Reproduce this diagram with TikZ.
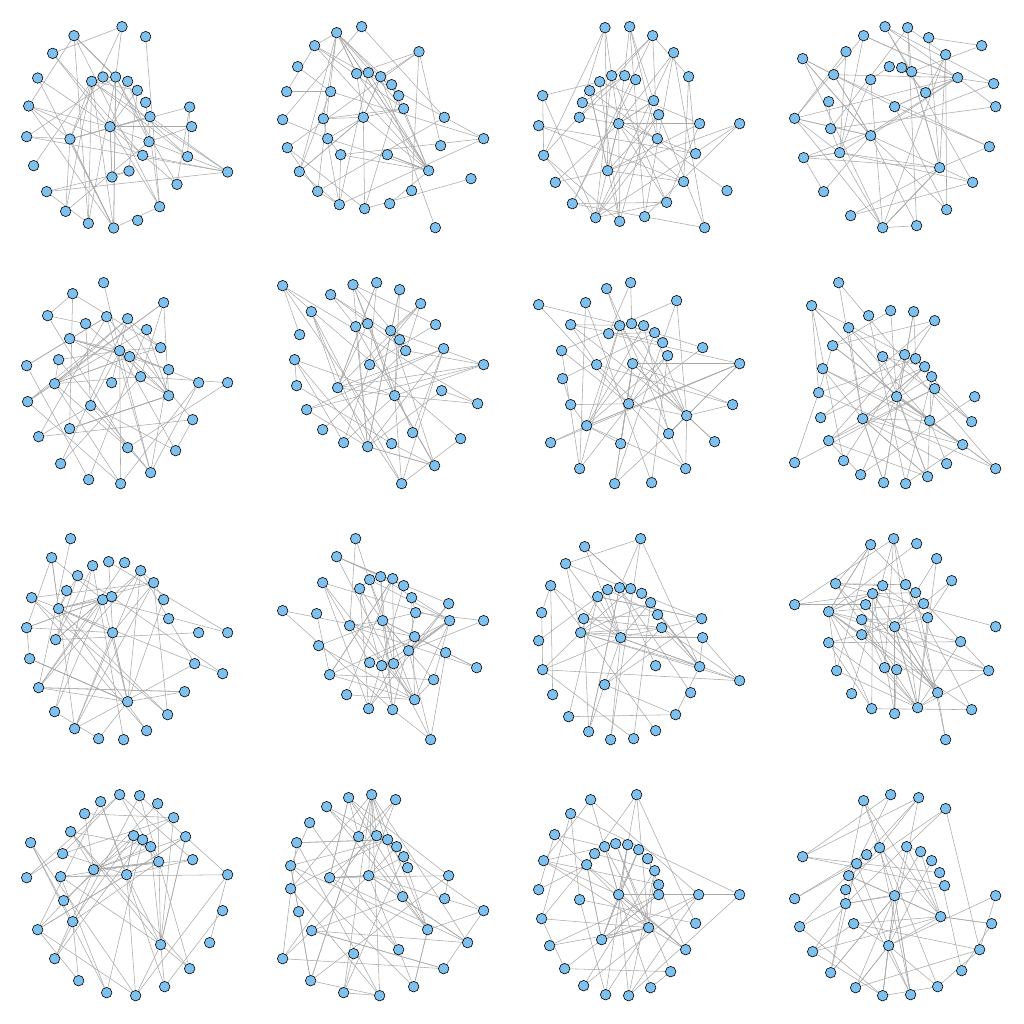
\documentclass[tikz,border=0pt]{standalone}
\usetikzlibrary{backgrounds}
\definecolor{nodeblue}{RGB}{126,192,238}
\definecolor{linkgray}{RGB}{170,170,170}
\tikzset{
  vtx/.style={circle, draw=black, fill=nodeblue, line width=0.6pt, minimum size=10.5pt, inner sep=0pt},
  link/.style={draw=linkgray, line width=0.55pt}
}
\newcommand{\netpanel}[3]{%
  \foreach \x/\y [count=\i] in {#2} {
    \node[vtx] (#1-\i) at (\x,\y) {};
    \xdef\nv{\i}
  }
  \begin{pgfonlayer}{background}
    \foreach \i in {1,...,\nv} {
      \pgfmathrandominteger{\j}{1}{\nv}
      \ifnum\i=\j\else \draw[link] (#1-\i) -- (#1-\j); \fi
    }
    \foreach \h in {#3} {
      \foreach \k in {1,...,8} {
        \pgfmathrandominteger{\j}{1}{\nv}
        \ifnum\h=\j\else \draw[link] (#1-\h) -- (#1-\j); \fi
      }
    }
    \foreach \k in {1,...,10} {
      \pgfmathrandominteger{\i}{1}{\nv}
      \pgfmathrandominteger{\j}{1}{\nv}
      \ifnum\i=\j\else \draw[link] (#1-\i) -- (#1-\j); \fi
    }
  \end{pgfonlayer}
}
\begin{document}
\begin{tikzpicture}[x=0.3333pt, y=-0.3333pt]
  \begin{pgfonlayer}{background}
    \fill[white] (0,0) rectangle (3072,3072);
  \end{pgfonlayer}
  \useasboundingbox (0,0) rectangle (3072,3072);
  \pgfmathsetseed{11}
  \begin{scope}
    \netpanel{a}{366/80, 222/107, 437/110, 158/160, 113/234, 275/244, 309/231, 347/231, 383/244, 412/271, 437/307, 86/318, 569/321, 450/350, 330/380, 575/380, 80/410, 210/417, 447/425, 428/466, 563/470, 101/497, 387/513, 336/531, 683/516, 531/553, 140/575, 479/620, 197/634, 265/670, 341/684, 413/661}{18,15,8}
    \netpanel{b}{1085/80, 1010/98, 944/137, 1257/155, 893/200, 1070/221, 1105/218, 1142/230, 1175/254, 1196/287, 1211/326, 860/275, 992/275, 848/359, 970/356, 1090/352, 1333/352, 983/416, 1451/416, 862/443, 1322/437, 1022/464, 1162/464, 898/515, 1286/512, 1413/536, 953/574, 1235/572, 1018/614, 1094/626, 1169/611, 1306/683}{16,25,2}
  \end{scope}
  \begin{scope}[shift={(1536,0)}]
    \netpanel{c}{279/83, 353/80, 422/107, 485/158, 530/230, 299/227, 338/227, 371/239, 263/245, 233/272, 92/287, 211/308, 425/302, 202/352, 440/344, 80/377, 320/371, 563/371, 683/371, 436/416, 551/461, 95/466, 287/512, 130/547, 515/545, 645/572, 181/611, 464/607, 251/653, 323/664, 398/650, 578/683}{17,23,29}
    \netpanel{d}{1119/80, 1187/83, 1055/107, 1250/113, 1409/137, 1002/155, 872/176, 1301/164, 1132/200, 1169/203, 1199/215, 965/224, 1076/239, 1337/233, 1445/251, 1241/278, 950/305, 1148/320, 1451/320, 848/355, 956/386, 1076/407, 1432/440, 983/458, 875/473, 1283/503, 1382/547, 935/575, 1304/629, 1016/647, 1112/683, 1214/677}{22,24,26,14}
  \end{scope}
  \begin{scope}[shift={(0,768)}]
    \netpanel{e}{311/80, 218/113, 491/140, 143/179, 257/203, 320/182, 383/188, 209/248, 440/221, 482/275, 359/284, 389/302, 176/311, 80/329, 506/341, 164/383, 335/380, 422/362, 596/380, 683/380, 506/419, 83/437, 272/449, 578/491, 209/518, 116/542, 383/575, 527/584, 182/623, 266/671, 362/683, 452/650}{16,21,11}
    \netpanel{f}{848/89, 992/116, 1059/86, 1130/80, 1199/101, 934/167, 1262/143, 1067/212, 1103/203, 1172/224, 1307/206, 899/236, 1199/251, 1217/284, 1331/278, 884/311, 1109/326, 1451/326, 890/389, 1013/395, 1184/419, 1325/404, 1433/443, 920/461, 968/521, 1238/530, 1031/560, 1103/572, 1175/563, 1382/548, 1304/629, 1205/683}{20,21,28}
  \end{scope}
  \begin{scope}[shift={(1536,768)}]
    \netpanel{g}{356/80, 284/98, 80/146, 221/140, 494/134, 176/206, 323/209, 359/203, 395/209, 428/230, 290/233, 452/260, 572/275, 467/299, 149/284, 254/326, 362/323, 683/323, 152/368, 176/446, 350/443, 662/446, 524/479, 224/509, 116/560, 470/533, 326/563, 608/557, 203/638, 521/638, 308/683, 419/680}{23,24,17}
    \netpanel{h}{980/80, 899/149, 1070/179, 1136/164, 1205/167, 1268/194, 1010/215, 962/269, 1112/302, 1178/296, 1211/308, 1238/332, 1259/362, 1268/398, 932/338, 920/410, 1154/422, 1388/422, 926/485, 1052/488, 1253/494, 1379/497, 950/554, 1352/566, 848/620, 995/614, 1304/623, 1451/638, 1046/656, 1115/680, 1181/683, 1247/662}{20,17,21}
  \end{scope}
  \begin{scope}[shift={(0,1536)}]
    \netpanel{i}{212/80, 155/137, 278/161, 326/149, 374/152, 233/191, 422/176, 461/212, 200/236, 95/257, 308/263, 335/254, 491/263, 176/290, 506/320, 80/347, 338/362, 596/362, 683/362, 167/383, 89/440, 584/455, 668/485, 116/527, 554/539, 383/569, 164/599, 503/608, 224/650, 296/680, 371/683, 440/656}{26,14,11}
    \netpanel{j}{1067/80, 1010/134, 968/212, 1109/203, 1142/194, 1178/200, 1211/221, 1079/230, 1235/257, 848/296, 950/305, 1346/275, 1247/302, 1148/326, 1349/326, 1451/326, 1049/341, 956/401, 1244/374, 1226/416, 1337/422, 1109/452, 1145/461, 1181/455, 1430/467, 989/488, 1301/503, 1040/548, 1244/563, 1106/590, 1178/593, 1292/683}{14,29,15}
  \end{scope}
  \begin{scope}[shift={(1536,1536)}]
    \netpanel{k}{386/80, 218/104, 161/155, 116/221, 257/254, 287/233, 323/227, 356/230, 389/244, 416/272, 437/308, 89/302, 215/320, 449/347, 569/320, 572/377, 80/386, 206/362, 326/377, 431/461, 563/464, 92/473, 683/506, 278/518, 536/542, 122/548, 170/614, 491/608, 230/659, 296/683, 365/680, 431/656}{19,21,18}
    \netpanel{l}{1076/98, 1145/80, 1214/95, 1274/140, 1319/206, 971/215, 1112/221, 1181/218, 1211/242, 1082/245, 1235/275, 1061/278, 848/278, 950/299, 1049/323, 1247/317, 1148/344, 1049/368, 1451/344, 1346/389, 950/392, 1118/467, 1154/473, 1430/476, 974/476, 1277/542, 1019/545, 1217/587, 1379/593, 1079/590, 1148/605, 1301/683}{14,17,28,26}
  \end{scope}
  \begin{scope}[shift={(0,2304)}]
    \netpanel{m}{359/80, 419/83, 302/101, 473/107, 254/137, 521/149, 212/191, 92/224, 401/203, 428/215, 557/206, 452/236, 188/257, 476/281, 578/275, 281/305, 380/320, 80/329, 182/326, 683/320, 191/398, 668/428, 218/461, 113/485, 482/530, 629/524, 164/572, 569/602, 236/638, 320/674, 407/683, 494/656}{25,16,17}
    \netpanel{n}{1046/89, 1115/80, 1187/95, 980/116, 929/164, 1076/206, 1130/203, 1163/215, 1190/236, 1211/266, 1223/299, 890/224, 872/293, 872/362, 989/329, 1106/323, 1346/323, 896/431, 1208/386, 1334/392, 1451/428, 935/488, 1283/485, 1403/524, 1061/557, 1196/545, 848/572, 1331/602, 932/638, 1241/656, 1031/674, 1139/683}{2,15,16,23}
  \end{scope}
  \begin{scope}[shift={(1536,2304)}]
    \netpanel{o}{374/80, 236/95, 176/137, 128/200, 95/278, 248/257, 278/236, 311/227, 347/230, 380/245, 407/272, 428/308, 440/350, 440/380, 224/290, 80/365, 203/395, 320/380, 560/380, 683/380, 89/452, 551/466, 410/479, 269/515, 113/533, 521/545, 158/602, 476/611, 215/653, 281/680, 350/683, 416/659}{18,24,23}
    \netpanel{p}{1055/98, 1136/80, 1220/89, 1301/122, 872/266, 1103/239, 1184/236, 1226/251, 1259/278, 1064/260, 1034/287, 1010/323, 1283/314, 1298/353, 1001/365, 1001/407, 1148/383, 848/392, 1451/383, 1286/446, 1439/467, 863/476, 1025/467, 1130/533, 1403/545, 902/551, 1349/608, 956/614, 1031/659, 1112/683, 1196/680, 1277/656}{17,24,20}
  \end{scope}
\end{tikzpicture}
\end{document}
